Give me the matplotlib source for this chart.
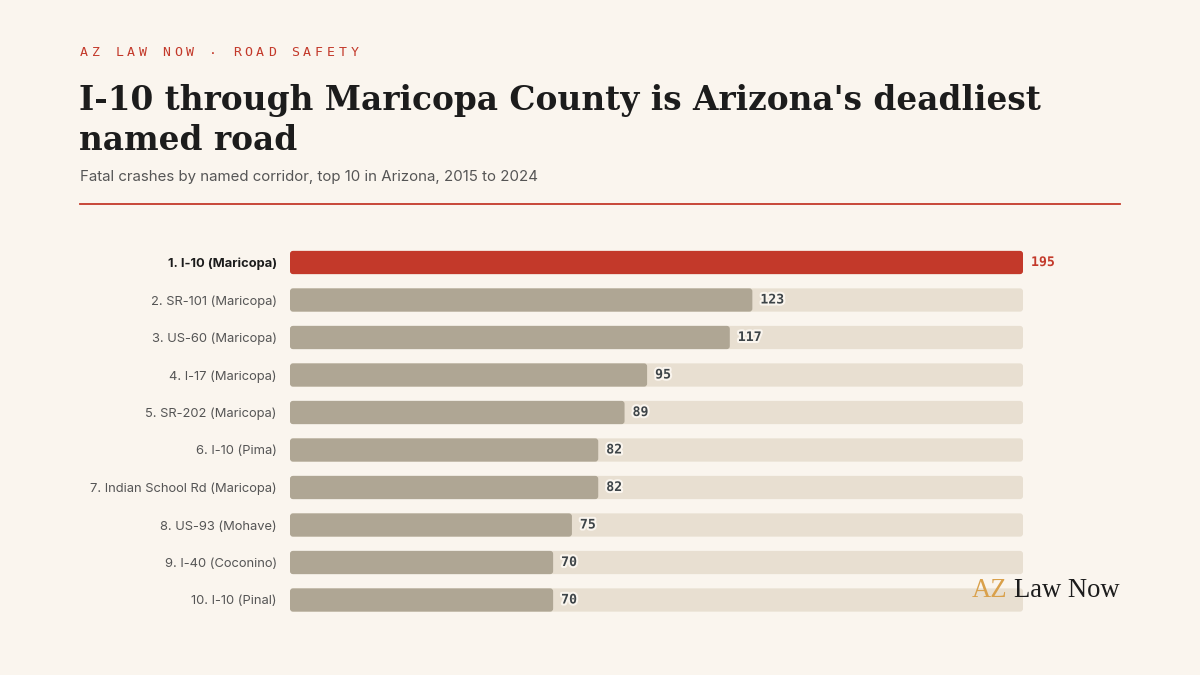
import matplotlib
matplotlib.use("Agg")
import matplotlib.pyplot as plt
import matplotlib.patheffects as pe
from matplotlib.patches import FancyBboxPatch

categories = ["1. I-10 (Maricopa)", "2. SR-101 (Maricopa)", "3. US-60 (Maricopa)",
              "4. I-17 (Maricopa)", "5. SR-202 (Maricopa)", "6. I-10 (Pima)",
              "7. Indian School Rd (Maricopa)", "8. US-93 (Mohave)",
              "9. I-40 (Coconino)", "10. I-10 (Pinal)"]
values = [195, 123, 117, 95, 89, 82, 82, 75, 70, 70]

kicker = "AZ LAW NOW · ROAD SAFETY"
title_lines = ["I-10 through Maricopa County is Arizona's deadliest", "named road"]
subtitle = "Fatal crashes by named corridor, top 10 in Arizona, 2015 to 2024"

BG = "#FAF5EE"
RED = "#C3392A"
GRAY = "#AFA694"
TRACK = "#E8DFD1"
DARK = "#1C1C1C"
MID = "#555555"
VAL = "#3D4448"

W, H = 1200, 675
fig = plt.figure(figsize=(12, 6.75), dpi=100, facecolor=BG)

def fx(px):
    return px / W

def fy(py):
    return 1 - py / H

# Kicker, letter-spaced
step = 11.75
for i, ch in enumerate(kicker):
    fig.text(fx(80 + i * step), fy(53), ch, family="DejaVu Sans Mono", fontsize=9.5,
             color=RED, ha="left", va="center")

for k, line in enumerate(title_lines):
    fig.text(fx(79), fy(110 + 40 * k), line, family="DejaVu Serif", fontweight="bold",
             fontsize=23.6, color=DARK, ha="left", va="baseline")
fig.text(fx(80), fy(177), subtitle, family="Inter", fontsize=10.8, color=MID,
         ha="left", va="center")

# rule
fig.add_artist(plt.Line2D([fx(80), fx(1120)], [fy(204), fy(204)], color=RED, lw=1.3))

# axes
ax = fig.add_axes([fx(290), fy(618.75), fx(1023) - fx(290), (618.75 - 243.75) / H])
ax.set_facecolor("none")
n = len(values)
ypos = list(range(n))
vmax = max(values)
ax.set_xlim(0, vmax)
ax.set_ylim(n - 0.5, -0.5)

px_per_unit = (1023 - 290) / vmax
px_per_row = 37.5
radius_px = 3.0
r_x = radius_px / px_per_unit
aspect = (radius_px / px_per_row) / r_x

track = ax.barh(ypos, [vmax] * n, height=0.62, color=TRACK, edgecolor="none")
colors = [RED] + [GRAY] * (n - 1)
bars = ax.barh(ypos, values, height=0.62, color=colors, edgecolor="none")
# swap rectangles for rounded boxes with same geometry
for cont in (track, bars):
    for rect in cont.patches:
        x0, y0 = rect.get_x(), rect.get_y()
        w, h = rect.get_width(), rect.get_height()
        rect.set_visible(False)
        ax.add_patch(FancyBboxPatch((x0, y0), w, h,
                                    boxstyle=f"round,pad=0,rounding_size={r_x}",
                                    mutation_aspect=aspect, facecolor=rect.get_facecolor(),
                                    edgecolor="none", zorder=rect.get_zorder()))

for s in ax.spines.values():
    s.set_visible(False)
ax.set_xticks([])
ax.set_yticks(ypos)
ax.set_yticklabels(categories, family="Inter", fontsize=9.3)
ax.tick_params(axis="y", length=0, pad=9.5)
for i, lbl in enumerate(ax.get_yticklabels()):
    if i == 0:
        lbl.set_fontweight("bold")
        lbl.set_color(DARK)
    else:
        lbl.set_color(MID)

for i, v in enumerate(values):
    ax.text(v + 8 / px_per_unit, i, str(v), family="DejaVu Sans Mono", fontweight="bold",
            fontsize=9.5, color=RED if i == 0 else VAL, ha="left", va="center",
            path_effects=[pe.withStroke(linewidth=3, foreground=BG)], zorder=5)

# logo
t1 = fig.text(fx(972), fy(597), "AZ", family="Liberation Serif", fontsize=19.2,
              color="#D9A04A", ha="left", va="baseline")
fig.canvas.draw()
bb = t1.get_window_extent()
fig.text(bb.x1 / W + fx(6), fy(597), "Law Now", family="Liberation Serif", fontsize=19.2,
         color=DARK, ha="left", va="baseline")

fig.savefig("out.png", dpi=100, facecolor=BG)
